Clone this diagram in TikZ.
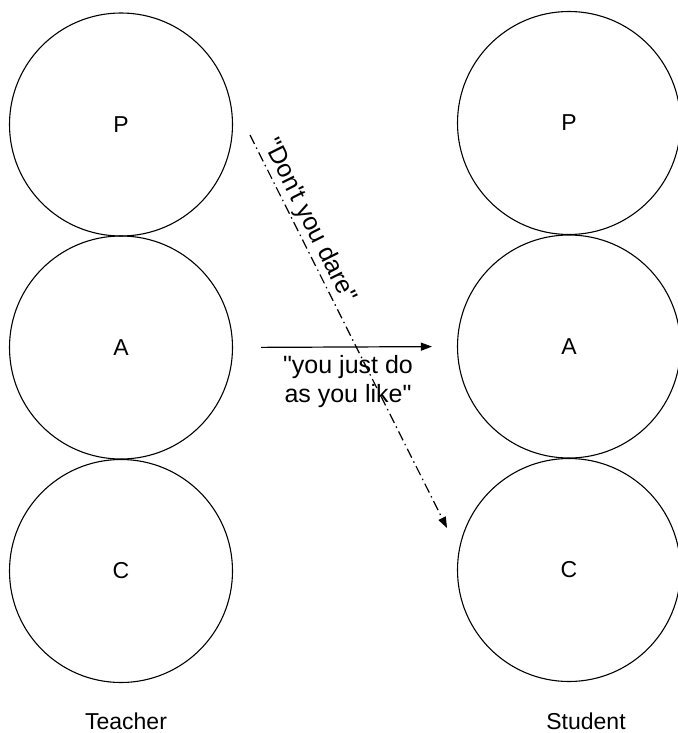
\documentclass[tikz,border=0pt]{standalone}
\usepackage{fontspec}
\setmainfont{Liberation Sans}
\usetikzlibrary{arrows.meta}
\begin{document}
\begin{tikzpicture}[x=1pt,y=-1pt,
  egostate/.style={circle,draw,line width=1.1pt,minimum size=223pt,inner sep=0pt,font=\fontsize{23}{27}\selectfont},
  lbl/.style={font=\fontsize{23}{27}\selectfont,inner sep=0pt},
  msg/.style={font=\fontsize{25}{29}\selectfont,inner sep=0pt,align=center},
  tip/.style={-{Triangle[length=11pt,width=8pt]}}]
\useasboundingbox (0,0) rectangle (677,733);
\node[egostate] (TP) at (121,124.5) {P};
\node[egostate] (TA) at (121,347.5) {A};
\node[egostate] (TC) at (121,571) {C};
\node[egostate] (SP) at (569,123) {P};
\node[egostate] (SA) at (569,346.5) {A};
\node[egostate] (SC) at (569,570) {C};
\node[lbl] (teacher) at (126,721) {Teacher};
\node[lbl] (student) at (586,721) {Student};
\draw[tip,line width=1.2pt,shorten <=28pt,shorten >=25pt] (TA.east) -- (SA.west);
\node[msg] (just) at (348,382) {\textquotedbl you just do\\as you like\textquotedbl};
\coordinate (ds) at (250,135);
\coordinate (de) at (447,528);
\draw[tip,line width=1.2pt,dash pattern=on 10pt off 4pt on 1.5pt off 4pt] (ds) -- (de)
  node[pos=0.235,sloped,above=2pt,msg] (dare) {\textquotedbl Don\textquotesingle t you dare\textquotedbl};
\end{tikzpicture}
\end{document}
